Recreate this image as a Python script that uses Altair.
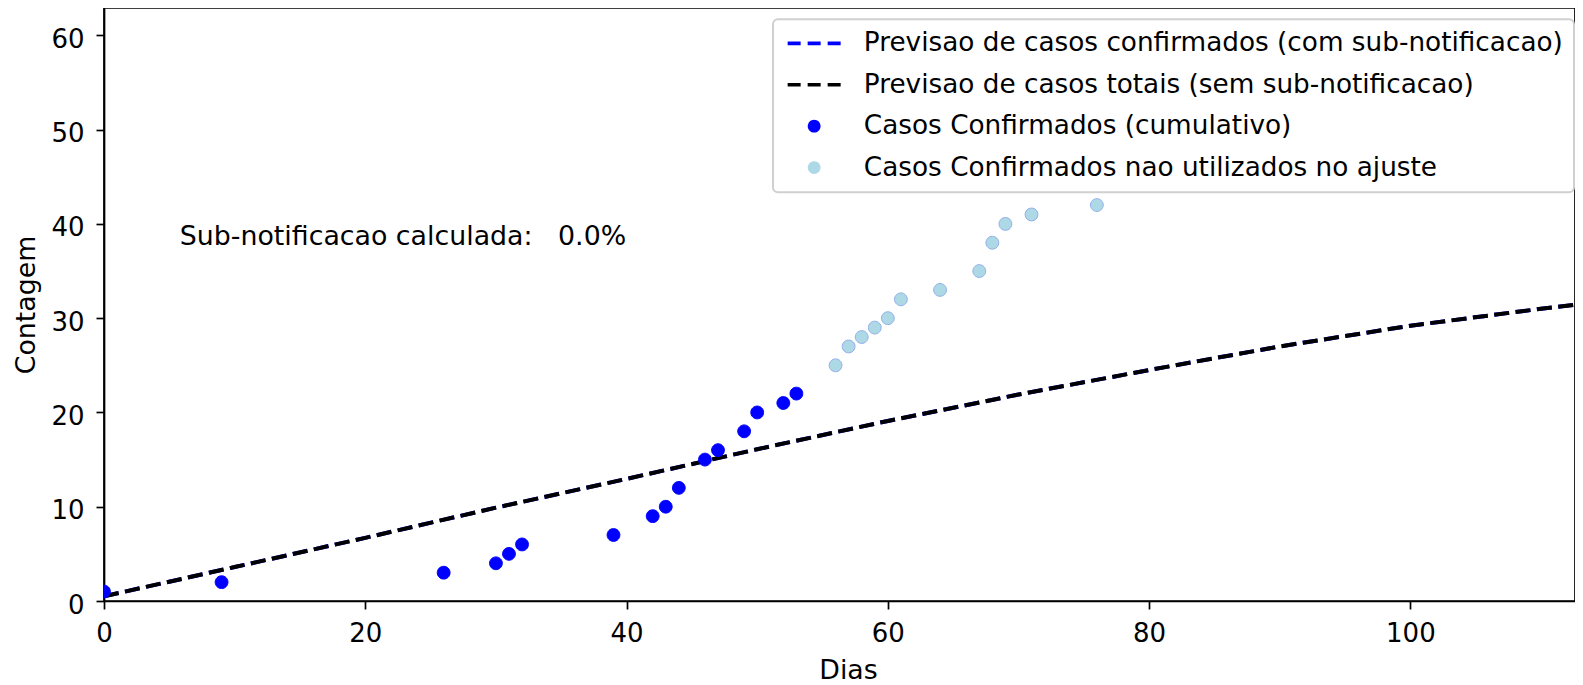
import altair as alt
import pandas as pd

# ---- data ----
DAYS_FIT = [0, 9, 26, 30, 31, 32, 39, 42, 43, 44, 46, 47, 49, 50, 52, 53]
CASES_FIT = [1, 2, 3, 4, 5, 6, 7, 9, 10, 12, 15, 16, 18, 20, 21, 22]
DAYS_UNUSED = [56, 57, 58, 59, 60, 61, 64, 67, 68, 69, 71, 76]
CASES_UNUSED = [25, 27, 28, 29, 30, 32, 33, 35, 38, 40, 41, 42]

PRED_DAYS = [0, 10, 20, 30, 40, 50, 60, 70, 80, 90, 100, 110, 113.1]
PRED_CONFIRMED = [0.5, 3.6, 6.7, 9.9, 12.95, 16.1, 19.1, 21.9, 24.5, 27.0, 29.2, 31.0, 31.5]
PRED_TOTAL = [0.5, 3.6, 6.7, 9.9, 12.95, 16.1, 19.1, 21.9, 24.5, 27.0, 29.2, 31.0, 31.5]

SERIES = [
    "Previsao de casos confirmados (com sub-notificacao)",
    "Previsao de casos totais (sem sub-notificacao)",
    "Casos Confirmados (cumulativo)",
    "Casos Confirmados nao utilizados no ajuste",
]
SERIES_COLORS = ["#0000ff", "#000000", "#0000ff", "#add8e6"]
SERIES_EDGES = ["#0000ff", "#000000", "#0000ff", "#93aee8"]

ANNOT_X = [5.8]
ANNOT_Y = [37.75]
ANNOT_TEXT = ["Sub-notificacao calculada:\u00a0\u00a0\u00a00.0%"]

X_TICKS = [0, 20, 40, 60, 80, 100]
Y_TICKS = [0, 10, 20, 30, 40, 50, 60]
X_DOMAIN = [0, 112.6]
Y_DOMAIN = [0, 62.9]

W, H = 1471, 593
FONT = "DejaVu Sans"
FS_AXIS = 26
FS_TEXT = 26.8
FS_LEGEND = 26.3

# symbol paths (unit = sqrt(size)/2 px = 10 px)
DASH_PATH = ("M-2.65,-0.18H-1.35V0.18H-2.65Z "
             "M-0.65,-0.18H0.65V0.18H-0.65Z "
             "M1.35,-0.18H2.65V0.18H1.35Z")
CIRCLE_PATH = "M-0.64,0A0.64,0.64,0,1,0,0.64,0A0.64,0.64,0,1,0,-0.64,0Z"
SERIES_SHAPES = [DASH_PATH, DASH_PATH, CIRCLE_PATH, CIRCLE_PATH]

pts = pd.DataFrame({
    "dia": DAYS_FIT + DAYS_UNUSED,
    "casos": CASES_FIT + CASES_UNUSED,
    "serie": [SERIES[2]] * len(DAYS_FIT) + [SERIES[3]] * len(DAYS_UNUSED),
})
pred_conf = pd.DataFrame({"dia": PRED_DAYS, "casos": PRED_CONFIRMED})
pred_tot = pd.DataFrame({"dia": PRED_DAYS, "casos": PRED_TOTAL})
annot = pd.DataFrame({"dia": ANNOT_X, "casos": ANNOT_Y, "txt": ANNOT_TEXT})

x_axis = alt.Axis(values=X_TICKS, labelPadding=11, labelFlush=False,
                  titleBaseline="alphabetic", titleY=77, titleX=W / 2 + 8.5,
                  titleAlign="center")
y_axis = alt.Axis(values=Y_TICKS, labelPadding=12, labelOffset=4,
                  titleBaseline="alphabetic", titleX=-69.5, titleY=H / 2,
                  titleAlign="center", titleAngle=-90)


def xenc():
    return alt.X("dia:Q", scale=alt.Scale(domain=X_DOMAIN, nice=False, zero=False),
                 axis=x_axis, title="Dias")


def yenc():
    return alt.Y("casos:Q", scale=alt.Scale(domain=Y_DOMAIN, nice=False),
                 axis=y_axis, title="Contagem")


legend = alt.Legend(
    title=None, orient="none", legendX=669, legendY=11.2,
    padding=11, rowPadding=14.4, symbolOffset=17, labelOffset=36.5,
    labelFont=FONT, labelFontSize=FS_LEGEND, labelColor="black", labelLimit=2000,
    symbolSize=400, symbolOpacity=1, symbolStrokeWidth=0,
)

line_conf = alt.Chart(pred_conf).mark_line(
    color="#0000ff", strokeDash=[15, 6.5], strokeWidth=4, clip=True
).encode(x=xenc(), y=yenc())

line_tot = alt.Chart(pred_tot).mark_line(
    color="#000000", strokeDash=[15, 6.5], strokeWidth=4, clip=True
).encode(x=xenc(), y=yenc())

points = alt.Chart(pts).mark_point(
    filled=True, size=400, opacity=1, strokeWidth=1, clip=True
).encode(
    x=xenc(), y=yenc(),
    color=alt.Color("serie:N", scale=alt.Scale(domain=SERIES, range=SERIES_COLORS), legend=legend),
    shape=alt.Shape("serie:N", scale=alt.Scale(domain=SERIES, range=SERIES_SHAPES), legend=legend),
    stroke=alt.Stroke("serie:N", scale=alt.Scale(domain=SERIES, range=SERIES_EDGES), legend=None),
)

text = alt.Chart(annot).mark_text(
    align="left", baseline="alphabetic", font=FONT, fontSize=FS_TEXT, color="black"
).encode(x=xenc(), y=yenc(), text="txt:N")

chart = alt.layer(line_conf, line_tot, points, text).properties(
    width=W, height=H,
    autosize=alt.AutoSizeParams(type="none"),
    padding={"left": 96, "top": 0, "right": 0, "bottom": 83},
).configure_view(
    stroke="black", strokeWidth=1.7
).configure_axis(
    labelFont=FONT, labelFontSize=FS_AXIS, labelColor="black",
    titleFont=FONT, titleFontSize=FS_TEXT, titleFontWeight="normal", titleColor="black",
    domainColor="black", domainWidth=1.7, tickColor="black", tickWidth=1.7,
    tickSize=8, grid=False,
).configure_legend(
    fillColor="rgba(255,255,255,0.8)", strokeColor="#d0d0d0", strokeWidth=2,
    cornerRadius=5,
)

chart.save("out.html", embed_options={"renderer": "svg", "actions": False})
